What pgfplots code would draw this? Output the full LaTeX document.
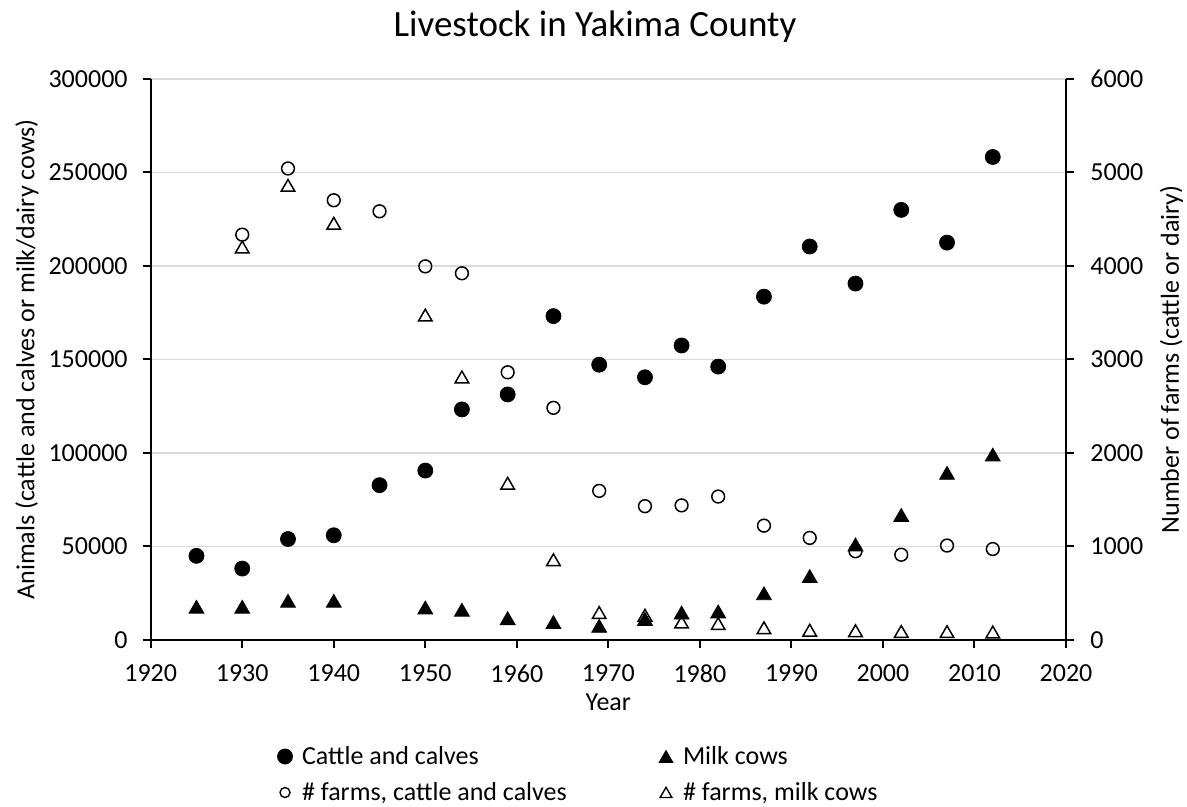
\documentclass[border=0pt]{standalone}
\usepackage{fontspec}
\setmainfont{Carlito}
\usepackage{pgfplots}
\pgfplotsset{compat=1.18}

\pgfplotstableread{
year cattle
1925 45000
1930 38200
1935 54000
1940 56000
1945 82800
1950 90600
1954 123300
1959 131300
1964 173200
1969 147200
1974 140500
1978 157500
1982 146200
1987 183600
1992 210400
1997 190600
2002 230000
2007 212500
2012 258300
}\cattle

\pgfplotstableread{
year milk
1925 17800
1930 17800
1935 21000
1940 21000
1950 17400
1954 16200
1959 11700
1964 9600
1969 7600
1974 11300
1978 14700
1982 15300
1987 25000
1992 34200
1997 51100
2002 66900
2007 89400
2012 99200
}\milk

\pgfplotstableread{
year farms
1930 4335
1935 5043
1940 4703
1945 4585
1950 3996
1954 3922
1959 2863
1964 2483
1969 1595
1974 1431
1978 1440
1982 1534
1987 1223
1992 1092
1997 949
2002 912
2007 1010
2012 973
}\farmscattle

\pgfplotstableread{
year farms
1930 4204
1935 4863
1940 4458
1950 3476
1954 2814
1959 1677
1964 859
1969 294
1974 266
1978 192
1982 176
1987 131
1992 105
1997 100
2002 92
2007 90
2012 86
}\farmsmilk

\definecolor{gridgray}{RGB}{217,217,217}

\pgfplotsset{
  common/.style={
    scale only axis, width=457.65pt, height=280.5pt,
    xmin=1920, xmax=2020,
    tick align=outside, major tick length=4pt,
    every tick/.style={black, line width=1pt},
    axis line style={-, black, line width=1pt},
    /pgf/number format/fixed,
    /pgf/number format/precision=0,
    /pgf/number format/1000 sep={},
    /pgf/number format/assume math mode=true,
    tick label style={font=\fontsize{13}{15}\selectfont},
    label style={font=\fontsize{13}{15}\selectfont},
    clip=false,
  },
  fcirc/.style={only marks, mark=*, mark size=3.75pt, black, mark options={fill=black}},
  ftri/.style={only marks, mark=triangle*, mark size=4.3pt, black, mark options={fill=black, yshift=-1.1pt}},
  ocirc/.style={only marks, mark=o, mark size=3.2pt, black, mark options={line width=0.75pt}},
  otri/.style={only marks, mark=triangle, mark size=3.9pt, black, mark options={line width=0.75pt, yshift=-1pt}},
}

\begin{document}
\begin{tikzpicture}
\useasboundingbox (-75.35pt,-83.5pt) rectangle (518.15pt,320pt);
\begin{axis}[
  common,
  ymin=0, ymax=300000,
  axis y line*=left, axis x line*=bottom,
  xtick={1920,1930,...,2020},
  ytick={0,50000,...,300000},
  scaled y ticks=false,
  ymajorgrids, grid style={draw=gridgray, line width=0.8pt},
  yticklabel style={xshift=-4pt},
  xticklabel style={yshift=-5pt},
  xlabel={Year},
  xlabel style={at={(axis description cs:0.5,-0.1248)}, anchor=base},
  ylabel={Animals (cattle and calves or milk/dairy cows)},
  ylabel style={at={(axis description cs:-0.1351,0.5)}, anchor=center},
  title={Livestock in Yakima County},
  every axis title/.style={at={(axis description cs:0.4854,1.0766)}, anchor=base, font=\fontsize{18.5}{22}\selectfont},
]
\addplot[fcirc] table[x=year, y=cattle] {\cattle};
\addplot[ftri] table[x=year, y=milk] {\milk};
\end{axis}
\begin{axis}[
  common,
  ymin=0, ymax=6000,
  axis y line*=right, axis x line=none,
  ytick={0,1000,...,6000},
  yticklabel style={xshift=4.7pt},
  ylabel={Number of farms (cattle or dairy)},
  ylabel style={at={(axis description cs:1.1153,0.5)}, anchor=center},
  legend columns=2,
  legend style={draw=none, fill=none, inner sep=0pt, outer sep=0pt,
    at={(axis description cs:0.138,-0.1854)}, anchor=north west,
    font=\fontsize{13}{15}\selectfont,
    nodes={inner sep=0pt, text height=10pt, text depth=2.5pt},
    column sep=0pt,
    /tikz/every odd column/.append style={column sep=4.5pt},
    row sep=5.5pt},
  legend cell align=left,
  legend image code/.code={\path[draw=none, fill=none] (-4pt,-4pt) rectangle (4pt,4pt); \draw[#1] plot coordinates {(0pt,0pt)};},
]
\addlegendimage{only marks, mark=*, mark size=3.75pt, black, mark options={fill=black}}
\addlegendentry{\makebox[178pt][l]{Cattle and calves}}
\addlegendimage{only marks, mark=triangle*, mark size=4.0pt, black, mark options={fill=black, yshift=-1pt}}
\addlegendentry{Milk cows}
\addlegendimage{only marks, mark=o, mark size=2.5pt, black, mark options={line width=0.7pt}}
\addlegendentry{\makebox[178pt][l]{\# farms, cattle and calves}}
\addlegendimage{only marks, mark=triangle, mark size=3.4pt, black, mark options={line width=0.7pt, yshift=-0.8pt}}
\addlegendentry{\# farms, milk cows}
\addplot[ocirc, forget plot] table[x=year, y=farms] {\farmscattle};
\addplot[otri, forget plot] table[x=year, y=farms] {\farmsmilk};
\end{axis}
\end{tikzpicture}
\end{document}
